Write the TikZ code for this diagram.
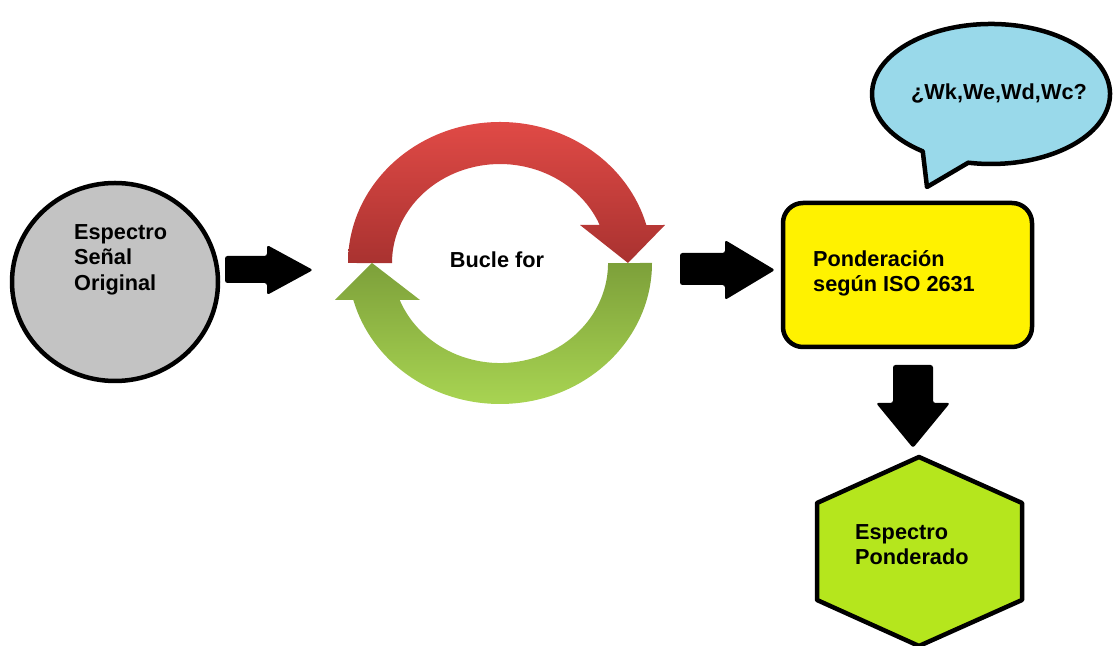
\documentclass[tikz,border=0pt]{standalone}
\usepackage{fontspec}
\setmainfont{Liberation Sans}
\definecolor{srcgray}{HTML}{C3C3C3}
\definecolor{bubbleblue}{HTML}{99D9EA}
\definecolor{isoyellow}{HTML}{FFF200}
\definecolor{hexgreen}{HTML}{B5E61D}
\definecolor{loopredtop}{HTML}{E04A46}
\definecolor{loopredbot}{HTML}{A93230}
\definecolor{loopgreentop}{HTML}{7DA03A}
\definecolor{loopgreenbot}{HTML}{A8D452}
\begin{document}
\begin{tikzpicture}[x=1bp,y=1bp,
  outline/.style={draw=black, line width=4.5bp, line join=round},
  txt/.style={font=\bfseries\fontsize{21.7bp}{25.5bp}\selectfont, inner sep=0pt, align=left},
  blockarrow/.style={fill=black, rounded corners=2.5bp},
]
\useasboundingbox (0,0) rectangle (1113,646);

% original spectrum (text anchored on the baseline of its last line)
\draw[outline, fill=srcgray] (115,364) ellipse [x radius=103, y radius=99];
\node[txt, anchor=base west] (src) at (74,355.5) {Espectro\\Señal\\Original};

% arrow into the loop
\fill[blockarrow] (225,390) -- (267,390) -- (267,401) -- (313,376) -- (267,351) -- (267,363) -- (225,363) -- cycle;

% for loop: two circular arrows
\shade[top color=loopredtop, bottom color=loopredbot]
  (348,383) arc[start angle=180, end angle=15.6, x radius=152, y radius=141]
  -- (665,421) -- (628,383) -- (580,421) -- (599.7,421)
  arc[start angle=22.6, end angle=180, x radius=108, y radius=99] -- cycle;
\shade[top color=loopgreentop, bottom color=loopgreenbot]
  (652,383) arc[start angle=0, end angle=-164.8, x radius=152, y radius=141]
  -- (335,346) -- (372,383) -- (420,346) -- (399.7,346)
  arc[start angle=-158.3, end angle=0, x radius=108, y radius=100] -- cycle;
\node[txt, anchor=base] (loop) at (497,378) {Bucle for};

% arrow into the weighting step
\fill[blockarrow] (680,393) -- (725,393) -- (725,406) -- (775,376) -- (725,346) -- (725,361) -- (680,361) -- cycle;

% weighting step
\draw[outline, fill=isoyellow, rounded corners=20bp] (783,299) rectangle (1032,443);
\node[txt, anchor=base west] (iso) at (813,354) {Ponderación\\según ISO 2631};

% speech bubble
\draw[outline, fill=bubbleblue]
  (968.3,483.3) arc[start angle=259, end angle=595, x radius=119, y radius=70]
  -- (927,459) -- cycle;
\node[txt, anchor=base] (ask) at (999,546) {¿Wk,We,Wd,Wc?};

% arrow down to the result
\fill[blockarrow] (893,281) -- (933,281) -- (933,243) -- (950,243) -- (913,198) -- (876,243) -- (893,243) -- cycle;

% weighted spectrum
\draw[outline, fill=hexgreen] (919,189) -- (1022,143) -- (1022,46) -- (919,0) -- (817,46) -- (817,143) -- cycle;
\node[txt, anchor=base west] (res) at (855,81) {Espectro\\Ponderado};
\end{tikzpicture}
\end{document}
